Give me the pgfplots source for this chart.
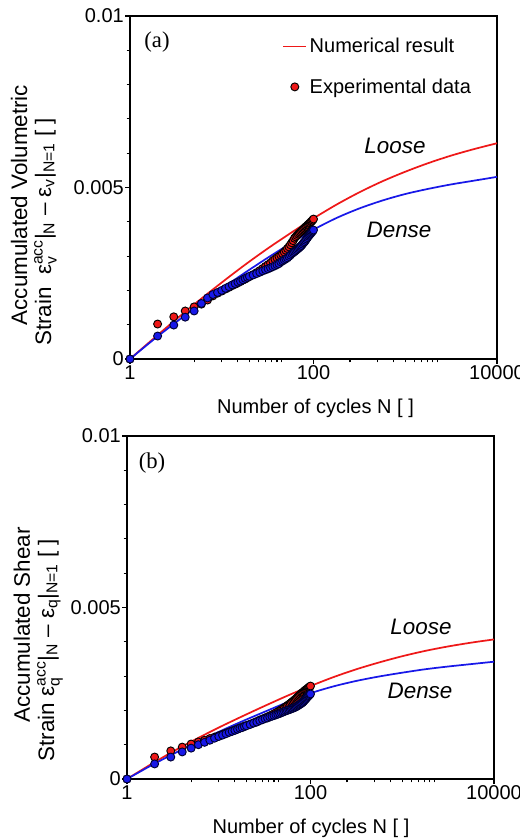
\documentclass[border=0pt]{standalone}
\usepackage{fontspec}
\setmainfont{Liberation Sans}
\newfontfamily\seriffont{Liberation Serif}
\usepackage{amsmath}
\usepackage{pgfplots}
\pgfplotsset{compat=1.18}
\definecolor{loosered}{RGB}{238,24,24}
\definecolor{denseblue}{RGB}{24,24,232}
\newcommand\fs{\fontsize{15}{18}\selectfont}
\newcommand\fl{\fontsize{16.8}{20}\selectfont}

% numerical curves, strain in 1e-3
\pgfplotstableread{
N      loose dense
1      0     0
1.778  0.58  0.55
3.162  1.15  1.07
5.623  1.70  1.57
10     2.23  2.05
17.78  2.74  2.51
31.62  3.22  2.95
56.23  3.67  3.37
100    4.10  3.77
177.8  4.50  4.11
316.2  4.86  4.39
562.3  5.18  4.62
1000   5.46  4.81
1778   5.71  4.96
3162   5.93  5.09
5623   6.12  5.20
10000  6.29  5.31
}\curvA
\pgfplotstableread{
N      loose dense
1      0     0
1.778  0.41  0.375
3.162  0.80  0.725
5.623  1.16  1.06
10     1.50  1.375
17.78  1.82  1.675
31.62  2.13  1.96
56.23  2.43  2.24
100    2.71  2.50
177.8  2.97  2.70
316.2  3.20  2.86
562.3  3.40  2.99
1000   3.58  3.10
1778   3.735 3.20
3162   3.865 3.28
5623   3.975 3.35
10000  4.07  3.42
}\curvB
% experimental data
\pgfplotstableread{
N loose dense
1 0 0
2 1.02 0.67
3 1.23 0.99
4 1.40 1.22
5 1.52 1.40
6 1.60 1.62
7 1.72 1.78
8 1.84 1.88
9 1.92 1.94
10 1.98 2.00
11 2.04 2.06
12 2.09 2.11
13 2.14 2.16
14 2.18 2.20
15 2.22 2.24
16 2.26 2.27
17 2.30 2.31
18 2.33 2.35
19 2.37 2.38
20 2.40 2.41
22 2.46 2.45
24 2.52 2.49
26 2.58 2.53
28 2.64 2.57
30 2.70 2.60
32 2.75 2.63
34 2.80 2.66
36 2.86 2.69
38 2.91 2.72
40 2.95 2.75
42 2.99 2.78
44 3.03 2.83
46 3.07 2.86
48 3.12 2.89
50 3.17 2.92
52 3.22 2.95
54 3.27 2.99
56 3.33 3.03
58 3.39 3.07
60 3.45 3.10
62 3.52 3.13
64 3.56 3.16
66 3.60 3.19
68 3.64 3.22
70 3.67 3.25
72 3.70 3.28
74 3.73 3.31
76 3.76 3.35
78 3.79 3.39
80 3.82 3.42
82 3.85 3.46
84 3.87 3.50
86 3.90 3.54
88 3.92 3.58
90 3.95 3.61
92 3.97 3.64
94 4.00 3.67
96 4.02 3.70
98 4.05 3.73
100 4.08 3.76
}\expA
\pgfplotstableread{
N loose dense
1 0 0
2 0.64 0.44
3 0.82 0.64
4 0.93 0.79
5 1.02 0.90
6 1.08 1.00
7 1.13 1.07
8 1.18 1.13
9 1.22 1.19
10 1.26 1.24
11 1.30 1.28
12 1.34 1.32
13 1.37 1.36
14 1.40 1.39
15 1.43 1.42
16 1.46 1.45
17 1.49 1.48
18 1.51 1.50
19 1.54 1.53
20 1.56 1.55
22 1.60 1.59
24 1.64 1.63
26 1.68 1.66
28 1.72 1.70
30 1.75 1.73
32 1.78 1.76
34 1.81 1.78
36 1.84 1.81
38 1.87 1.83
40 1.90 1.85
42 1.93 1.87
44 1.96 1.89
46 1.99 1.91
48 2.02 1.93
50 2.05 1.95
52 2.08 1.97
54 2.11 1.99
56 2.14 2.00
58 2.17 2.02
60 2.20 2.03
62 2.23 2.05
64 2.26 2.06
66 2.29 2.08
68 2.32 2.09
70 2.35 2.11
72 2.38 2.13
74 2.41 2.15
76 2.44 2.17
78 2.47 2.19
80 2.50 2.21
82 2.52 2.23
84 2.54 2.26
86 2.57 2.29
88 2.59 2.32
90 2.61 2.35
92 2.63 2.38
94 2.65 2.41
96 2.67 2.43
98 2.69 2.46
100 2.71 2.48
}\expB

\begin{document}
\begin{tikzpicture}
\useasboundingbox (0,0) rectangle (390pt,-630pt);
% panel (a)
\begin{axis}[at={(97.5pt,-269.25pt)},anchor=south west,
  scale only axis,width=275.25pt,height=257.25pt,
  xmode=log,xmin=1,xmax=10000,ymin=0,ymax=10,
  xtick={1,100,10000},xticklabels={1,100,10000},
  minor xtick={5,10,15,20,25,30,35,40,45,250,500,750,1000,1250,1500,1750,2000,2250},
  ytick={0,5,10},yticklabels={0,0.005,0.01},
  minor ytick={1,2,3,4,6,7,8,9},
  tick align=outside,tick pos=left,
  major tick length=3.75pt,minor tick length=2.5pt,
  axis line style={line width=0.9pt},
  tick style={black,line width=0.8pt},
  tick label style={font=\fs},
  yticklabel style={xshift=2.6pt},
  xticklabel style={yshift=2.2pt},
  clip=false,
  legend style={draw=none,fill=none,inner sep=0pt,at={(0.415,0.944)},anchor=north west,
    font=\fs,row sep=14pt},legend cell align=left]
\addplot[line width=1.3pt,smooth,color=loosered] table[x=N,y=loose] {\curvA};
\addlegendentry{Numerical result}
\addplot[line width=1.3pt,smooth,color=denseblue,forget plot] table[x=N,y=dense] {\curvA};
\addplot[only marks,mark=*,mark size=3pt,color=loosered,mark options={draw=black,line width=0.7pt}] table[x=N,y=loose] {\expA};
\addlegendentry{Experimental data}
\addplot[only marks,mark=*,mark size=3pt,color=denseblue,mark options={draw=black!80!blue,line width=0.7pt},forget plot] table[x=N,y=dense] {\expA};
\end{axis}
% panel (b)
\begin{axis}[at={(95.25pt,-584.25pt)},anchor=south west,
  scale only axis,width=275.25pt,height=257.25pt,
  xmode=log,xmin=1,xmax=10000,ymin=0,ymax=10,
  xtick={1,100,10000},xticklabels={1,100,10000},
  minor xtick={5,10,15,20,25,30,35,40,45,250,500,750,1000,1250,1500,1750,2000,2250},
  ytick={0,5,10},yticklabels={0,0.005,0.01},
  minor ytick={1,2,3,4,6,7,8,9},
  tick align=outside,tick pos=left,
  major tick length=3.75pt,minor tick length=2.5pt,
  axis line style={line width=0.9pt},
  tick style={black,line width=0.8pt},
  tick label style={font=\fs},
  yticklabel style={xshift=2.6pt},
  xticklabel style={yshift=2.2pt},
  clip=false]
\addplot[line width=1.3pt,smooth,color=loosered] table[x=N,y=loose] {\curvB};
\addplot[line width=1.3pt,smooth,color=denseblue] table[x=N,y=dense] {\curvB};
\addplot[only marks,mark=*,mark size=3pt,color=loosered,mark options={draw=black,line width=0.7pt}] table[x=N,y=loose] {\expB};
\addplot[only marks,mark=*,mark size=3pt,color=denseblue,mark options={draw=black!80!blue,line width=0.7pt}] table[x=N,y=dense] {\expB};
\end{axis}
\begin{scope}[x=0.75pt,y=-0.75pt]
\node[font=\fs,anchor=base] at (315.5,413) {Number of cycles N [ ]};
\node[font=\fs,anchor=base] at (311,833) {Number of cycles N [ ]};
\node[font=\fl,rotate=90,anchor=base] at (27,205) {Accumulated Volumetric};
\node[font=\fl,rotate=90,anchor=base] at (51,232) {Strain\ \ ε$_{\text{v}}^{\text{acc}}$|$_{\text{N}}$ -- ε$_{\text{v}}$|$_{\text{N=1}}$ [ ]};
\node[font=\fl,rotate=90,anchor=base] at (30,625) {Accumulated Shear};
\node[font=\fl,rotate=90,anchor=base] at (54,650) {Strain ε$_{\text{q}}^{\text{acc}}$|$_{\text{N}}$ -- ε$_{\text{q}}$|$_{\text{N=1}}$ [ ]};
\node[font=\fontsize{17}{20}\selectfont\seriffont] at (157,42) {(a)};
\node[font=\fontsize{17}{20}\selectfont\seriffont] at (152,463) {(b)};
\node[font=\fl\itshape] at (395,146) {Loose};
\node[font=\fl\itshape] at (399,230) {Dense};
\node[font=\fl\itshape] at (421,627) {Loose};
\node[font=\fl\itshape] at (420,691) {Dense};
\end{scope}
\end{tikzpicture}
\end{document}
